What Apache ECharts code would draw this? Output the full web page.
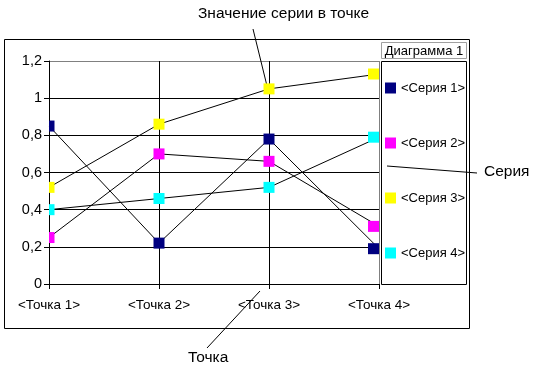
<!DOCTYPE html>
<html><head><meta charset="utf-8">
<script src="https://cdn.jsdelivr.net/npm/echarts@6/dist/echarts.min.js"></script>
<style>html,body{margin:0;padding:0;background:#fff}#c{width:536px;height:371px}</style>
</head><body><div id="c"></div>
<script>
const categories = ['<Точка 1>', '<Точка 2>', '<Точка 3>', '<Точка 4>'];
const seriesNames = ['<Серия 1>', '<Серия 2>', '<Серия 3>', '<Серия 4>'];
const series1 = [0.85, 0.22, 0.78, 0.19];
const series2 = [0.25, 0.70, 0.66, 0.31];
const series3 = [0.52, 0.86, 1.05, 1.13];
const series4 = [0.40, 0.46, 0.52, 0.79];
const seriesColors = ['#000080', '#ff00ff', '#ffff00', '#00ffff'];
const yTickLabels = ['0', '0,2', '0,4', '0,6', '0,8', '1', '1,2'];
const chartTitle = 'Диаграмма 1';
const noteValue = 'Значение серии в точке';
const noteSeries = 'Серия';
const notePoint = 'Точка';

const FONT = '"Liberation Sans", Arial, sans-serif';
const allValues = [series1, series2, series3, series4];
const chart = echarts.init(document.getElementById('c'), null, {renderer: 'canvas'});

const MS = 11;
function renderMarker(params, api) {
  const p = api.coord([api.value(0), api.value(1)]);
  const cs = params.coordSys;
  let left = p[0] - MS / 2;
  if (left + MS > cs.x + cs.width) left = cs.x + cs.width - MS;
  const shape = echarts.graphic.clipRectByRect(
    {x: left, y: p[1] - MS / 2, width: MS, height: MS},
    {x: cs.x, y: cs.y, width: cs.width, height: cs.height});
  if (!shape) return;
  return {type: 'rect', shape: shape, style: api.style({stroke: null, lineWidth: 0})};
}

const series = [];
allValues.forEach((vals, k) => {
  series.push({
    type: 'line', name: 'line' + k, data: vals, symbol: 'none', silent: true,
    lineStyle: {color: '#000', width: 1}, z: 2, animation: false
  });
});
allValues.forEach((vals, k) => {
  series.push({
    type: 'custom', name: seriesNames[k], renderItem: renderMarker,
    data: vals.map((v, i) => [i, v]), itemStyle: {color: seriesColors[k]},
    encode: {x: 0, y: 1}, z: 3, animation: false, silent: true
  });
});

const option = {
  animation: false,
  backgroundColor: '#fff',
  grid: {left: 49, right: 157, top: 61, bottom: 87, containLabel: false, outerBoundsMode: 'none'},
  xAxis: {
    type: 'category', data: categories, boundaryGap: false,
    axisLine: {show: true, lineStyle: {color: '#000', width: 1}},
    axisTick: {show: true, length: 5, lineStyle: {color: '#000'}},
    axisLabel: {color: '#000', fontSize: 13.5, fontFamily: FONT, margin: 14, interval: 0},
    splitLine: {show: true, lineStyle: {color: ['#000', '#000', '#000', '#808080'], width: 1}}
  },
  yAxis: {
    type: 'value', min: 0, max: 1.2, interval: 0.2,
    axisLine: {show: true, lineStyle: {color: '#000', width: 1}},
    axisTick: {show: true, length: 5, lineStyle: {color: '#000'}},
    axisLabel: {color: '#000', fontSize: 14.5, fontFamily: FONT, margin: 7,
      formatter: (v, i) => yTickLabels[i]},
    splitLine: {show: true, lineStyle: {color: ['#000', '#000', '#000', '#000', '#000', '#000', '#808080'], width: 1}}
  },
  legend: {
    data: seriesNames, orient: 'vertical', left: 385, top: 81, padding: 0,
    icon: 'rect', itemWidth: 11, itemHeight: 11, itemGap: 41,
    itemStyle: {borderWidth: 0},
    textStyle: {color: '#000', fontSize: 13, fontFamily: FONT, lineHeight: 14},
    selectedMode: false
  },
  graphic: [
    {type: 'rect', shape: {x: 4.5, y: 39.5, width: 465, height: 289}, style: {fill: 'none', stroke: '#000', lineWidth: 1}, z: 1},
    {type: 'rect', shape: {x: 381.5, y: 42.5, width: 85, height: 16}, style: {fill: '#fff', stroke: '#a0a0a0', lineWidth: 1}, z: 1},
    {type: 'text', x: 424, y: 51, style: {text: chartTitle, fill: '#000', font: '13px ' + FONT, align: 'center', verticalAlign: 'middle'}, z: 5},
    {type: 'rect', shape: {x: 381.5, y: 61.5, width: 85, height: 223}, style: {fill: 'none', stroke: '#000', lineWidth: 1}, z: 1},
    {type: 'text', x: 198, y: 14, style: {text: noteValue, fill: '#000', font: '15.5px ' + FONT, align: 'left', verticalAlign: 'middle'}, z: 5},
    {type: 'line', shape: {x1: 253, y1: 29, x2: 268, y2: 90}, style: {stroke: '#000', lineWidth: 1}, z: 2},
    {type: 'text', x: 484, y: 171.5, style: {text: noteSeries, fill: '#000', font: '15.5px ' + FONT, align: 'left', verticalAlign: 'middle'}, z: 5},
    {type: 'line', shape: {x1: 387, y1: 166, x2: 477, y2: 173}, style: {stroke: '#000', lineWidth: 1}, z: 5},
    {type: 'text', x: 188, y: 357.5, style: {text: notePoint, fill: '#000', font: '15.5px ' + FONT, align: 'left', verticalAlign: 'middle'}, z: 5},
    {type: 'line', shape: {x1: 260, y1: 291, x2: 207, y2: 348}, style: {stroke: '#000', lineWidth: 1}, z: 5}
  ],
  series: series
};
chart.setOption(option);
</script>
</body></html>
